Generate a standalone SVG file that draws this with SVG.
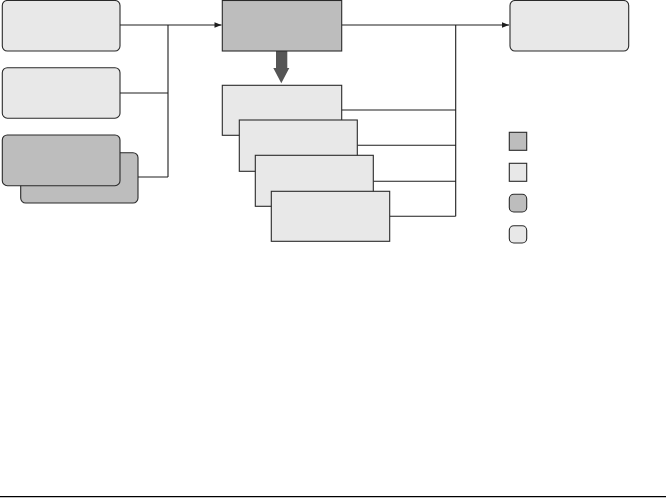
<svg xmlns="http://www.w3.org/2000/svg" width="666" height="498" viewBox="0 0 666 498">
<style>
.light{fill:#e8e8e8}
.dark{fill:#bdbdbd}
.n{stroke:#2a2a2a;stroke-width:1.1}
.c{fill:none;stroke:#1e1e1e;stroke-width:1.1}
</style>
<defs>
<marker id="ah" viewBox="0 0 10 10" refX="10" refY="5" markerWidth="10" markerHeight="7" markerUnits="userSpaceOnUse" orient="auto">
<path d="M0,1 L10,5 L0,9 Z" fill="#1e1e1e"/>
</marker>
</defs>
<rect width="666" height="498" fill="#fff"/>
<g id="connectors">
<path class="c" d="M120,25 H168 M120,93 H168 M138,177 H168 M168,25 V177"/>
<path class="c" d="M168,25 H221.5" marker-end="url(#ah)"/>
<path class="c" d="M341.7,25 H509" marker-end="url(#ah)"/>
<path class="c" d="M341.7,110 H455.7 M357.3,145.3 H455.7 M373.3,181.3 H455.7 M389.7,216.3 H455.7 M455.7,25 V216.3"/>
<path d="M276,51 H287.3 V68 H289.3 L281.3,83.3 L273.3,68 H276 Z" fill="#555"/>
</g>
<g id="input1"><rect class="n light" x="2.3" y="0.5" width="117.7" height="50.5" rx="5"/></g>
<g id="input2"><rect class="n light" x="2.3" y="67.7" width="117.7" height="50.5" rx="5"/></g>
<g id="input3">
<rect class="n dark" x="20.7" y="152.7" width="117.3" height="50.3" rx="5"/>
<rect class="n dark" x="2.3" y="135" width="117.7" height="50.7" rx="5"/>
</g>
<g id="center"><rect class="n dark" x="222.3" y="0.5" width="119.4" height="50.5"/></g>
<g id="stackA"><rect class="n light" x="222.3" y="85.3" width="119.4" height="50"/></g>
<g id="stackB"><rect class="n light" x="239.3" y="120" width="118" height="51.3"/></g>
<g id="stackC"><rect class="n light" x="255.3" y="155.3" width="118" height="51"/></g>
<g id="stackD"><rect class="n light" x="271.3" y="191.3" width="118.4" height="50"/></g>
<g id="output"><rect class="n light" x="510" y="0.5" width="118.7" height="50.5" rx="5"/></g>
<g id="legend">
<rect class="n dark" x="509.3" y="132.3" width="17.4" height="18"/>
<rect class="n light" x="509.3" y="163.3" width="17.4" height="18"/>
<rect class="n dark" x="509.3" y="194.3" width="17.4" height="17.7" rx="4.5"/>
<rect class="n light" x="509.3" y="225.7" width="17.4" height="17.3" rx="4.5"/>
</g>
<line x1="0" y1="496.6" x2="666" y2="496.6" stroke="#000" stroke-width="1.4"/>
</svg>
